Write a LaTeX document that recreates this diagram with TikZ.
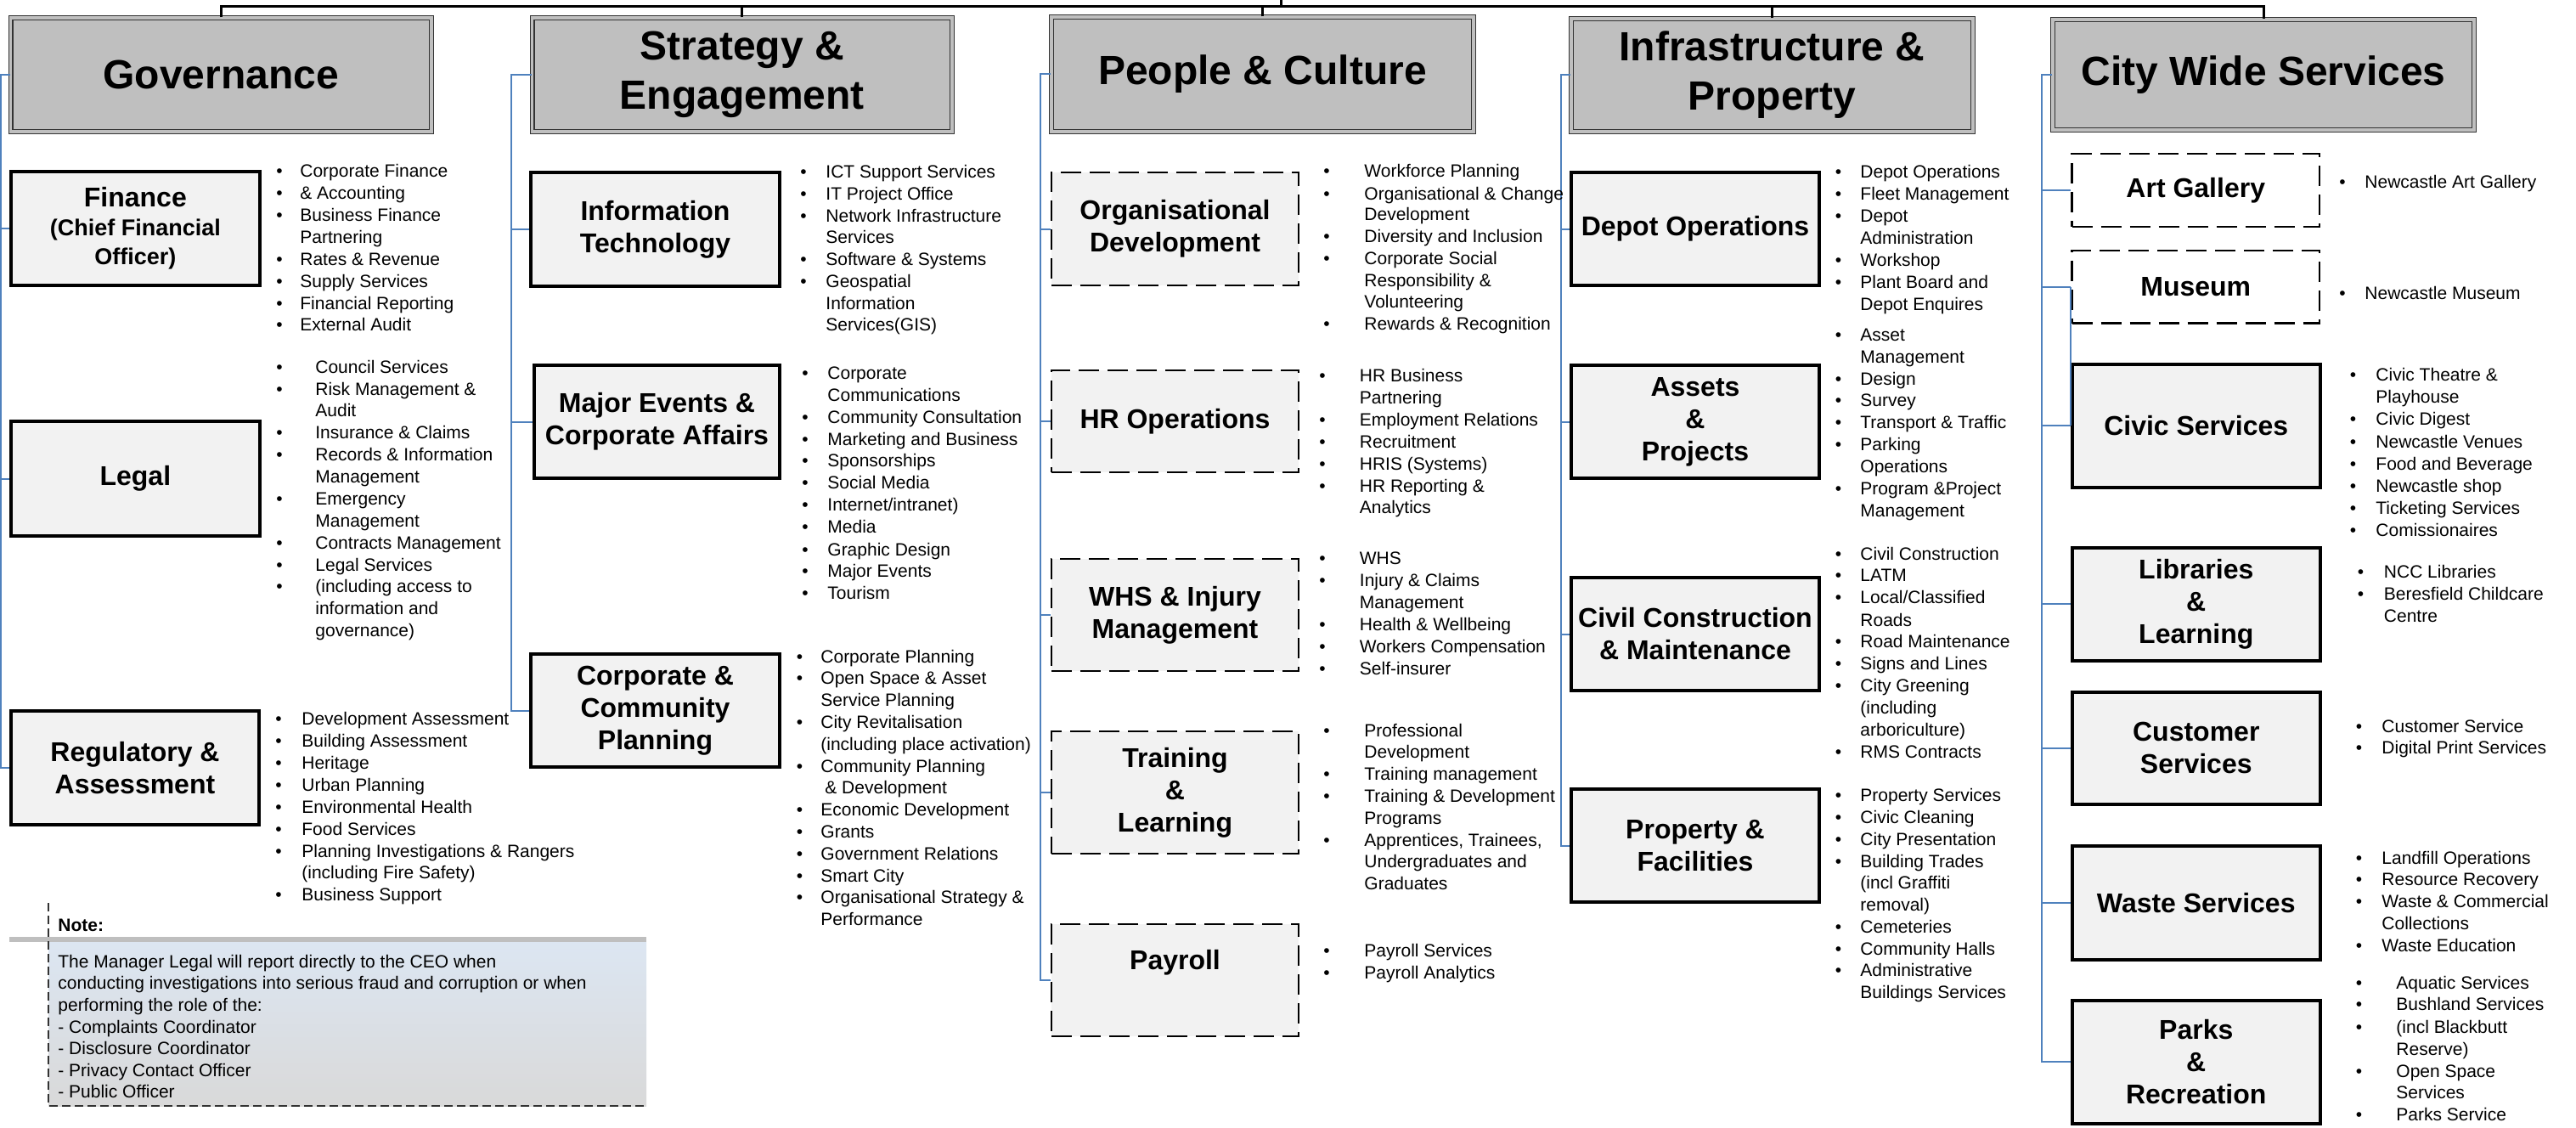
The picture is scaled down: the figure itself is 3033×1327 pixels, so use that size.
\documentclass[tikz,border=0pt]{standalone}
\usepackage{fontspec}
\setmainfont{Liberation Sans}
\usetikzlibrary{calc}
\definecolor{hdrfill}{HTML}{BFBFBF}
\definecolor{boxfill}{HTML}{F2F2F2}
\definecolor{connblue}{HTML}{4F81BD}
\definecolor{noteTop}{HTML}{DCE6F2}
\definecolor{noteBot}{HTML}{D9D9D9}
\definecolor{noteBar}{HTML}{BFBFBF}
\newcounter{lnc}
\newcommand\bli[4]{\stepcounter{lnc}\node[bultxt,anchor=center] (b\arabic{lnc}) at (#1,#3) {\textbullet};\node[bultxt] (t\arabic{lnc}) at (#2,#3) {#4};}
\newcommand\cli[3]{\stepcounter{lnc}\node[bultxt] (t\arabic{lnc}) at (#1,#2) {#3};}
\newcommand\bx[7]{\node[#1,minimum width={(#5-#3)*0.5pt-2pt},minimum height={(#6-#4)*0.5pt-2pt}] (#2) at ({(#3+#5)/2},{(#4+#6)/2}) {#7};}
\newcommand\fsm{\fontsize{13.5}{17}\selectfont}
\tikzset{
 hdr/.style={draw=black!80, double=hdrfill, double distance=1.6pt, line width=0.7pt, fill=hdrfill, inner sep=0pt, align=center, font=\fontsize{24}{29}\selectfont\bfseries},
 sub/.style={draw=black, line width=2pt, fill=boxfill, inner sep=0pt, align=center, font=\fontsize{16}{19}\selectfont\bfseries},
 dsub/.style={sub, line width=1.25pt, dash pattern=on 12pt off 5pt},
 wsub/.style={dsub, fill=white},
 bultxt/.style={inner sep=0pt, anchor=west, text height=7.5pt, text depth=0pt, font=\fontsize{10.5}{13}\selectfont},
 conn/.style={draw=connblue, line width=1pt},
 topline/.style={draw=black, line width=1.5pt},
 notedash/.style={draw=black!80, line width=0.6pt, dash pattern=on 5pt off 2.5pt},
}
\begin{document}
\begin{tikzpicture}[x=0.5pt,y=-0.5pt]
\useasboundingbox (0,0) rectangle (3033,1327);
% headers
\bx{hdr}{gH}{10.7}{19}{510}{157}{Governance}
\bx{hdr}{sH}{624.5}{19}{1123}{157}{Strategy \&\\Engagement}
\bx{hdr}{pH}{1236}{18}{1737}{157}{People \& Culture}
\bx{hdr}{iH}{1848}{20}{2325}{157}{Infrastructure \&\\Property}
\bx{hdr}{cH}{2415}{21}{2915}{155}{City Wide Services}
% top line
\coordinate (ty) at (0,7.5);
\coordinate (ceo) at (1508,0);
\draw[topline] (gH.north) -- (gH.north |- ty) -- (cH.north |- ty) -- (cH.north);
\foreach \n in {sH,pH,iH} \draw[topline] (\n.north) -- (\n.north |- ty);
\draw[topline] (ceo) -- (ceo |- ty);
% Governance
\bx{sub,font=\fontsize{16}{17}\selectfont\bfseries}{fin}{10.7}{200}{308}{338}{Finance\\\fsm (Chief Financial\\\fsm Officer)}
\bx{sub}{leg}{10.7}{494}{308}{633}{Legal}
\bx{sub}{reg}{11}{835}{307}{973}{Regulatory \&\\Assessment}
% Strategy
\bx{sub}{it}{623}{201}{920}{339}{Information\\Technology}
\bx{sub}{mev}{627}{428}{920}{565}{Major Events \&\\Corporate Affairs}
\bx{sub}{ccp}{623}{768}{920}{905}{Corporate \&\\Community\\Planning}
% People
\bx{dsub}{org}{1236}{201}{1531}{338}{Organisational\\Development}
\bx{dsub}{hro}{1236}{434}{1531}{558}{HR Operations}
\bx{dsub}{whs}{1236}{656}{1531}{792}{WHS \& Injury\\Management}
\bx{dsub}{trn}{1236}{859}{1531}{1007}{Training\\\&\\Learning}
\bx{dsub}{pay}{1236}{1086}{1531}{1222}{}
\node[font=\fontsize{16}{19}\selectfont\bfseries, inner sep=0pt] (payT) at (1383.5,1133) {Payroll};
% Infrastructure
\bx{sub}{dep}{1848}{201}{2144}{338}{Depot Operations}
\bx{sub}{ass}{1848}{428}{2144}{565}{Assets\\\&\\Projects}
\bx{sub}{civ}{1848}{678}{2144}{815}{Civil Construction\\\& Maintenance}
\bx{sub}{prf}{1848}{927}{2144}{1064}{Property \&\\Facilities}
% City wide
\bx{wsub}{art}{2437.5}{179}{2733}{269}{Art Gallery}
\bx{wsub}{mus}{2437.5}{293}{2733}{382.5}{Museum}
\bx{sub}{cvs}{2437.5}{427}{2734}{575.5}{Civic Services}
\bx{sub}{lib}{2437.5}{643}{2734}{779.5}{Libraries\\\&\\Learning}
\bx{sub}{cus}{2437.5}{812.5}{2734}{948.7}{Customer\\Services}
\bx{sub}{was}{2437.5}{994}{2734}{1131.5}{Waste Services}
\bx{sub}{prk}{2437.5}{1176}{2734}{1324.5}{Parks\\\&\\Recreation}
% connectors
\coordinate (gv) at (1,0);
\coordinate (sv) at (602,0);
\coordinate (pv) at (1225,0);
\coordinate (iv) at (1837.7,0);
\coordinate (cv) at (2404,0);
\draw[conn] (gH.west) -- (gH.west -| gv) |- (reg.west);
\foreach \n in {fin,leg} \draw[conn] (gv |- \n.west) -- (\n.west);
\draw[conn] (sH.west) -- (sH.west -| sv) |- (ccp.west);
\foreach \n in {it,mev} \draw[conn] (sv |- \n.west) -- (\n.west);
\draw[conn] (pH.west) -- (pH.west -| pv) |- (pay.west);
\foreach \n in {org,hro,whs,trn} \draw[conn] (pv |- \n.west) -- (\n.west);
\draw[conn] (iH.west) -- (iH.west -| iv) |- (prf.west);
\foreach \n in {dep,ass,civ} \draw[conn] (iv |- \n.west) -- (\n.west);
\draw[conn] (cH.west) -- (cH.west -| cv) |- (prk.west);
\foreach \n in {art,mus,cvs,lib,cus,was} \draw[conn] (cv |- \n.west) -- (\n.west);
\draw[conn] (mus.west) -- (mus.west |- cvs.west);
% Finance list
\bli{329}{353}{201}{Corporate Finance}
\bli{329}{353}{227}{\& Accounting}
\bli{329}{353}{253}{Business Finance}
\cli{353}{279}{Partnering}
\bli{329}{353}{305}{Rates \& Revenue}
\bli{329}{353}{331}{Supply Services}
\bli{329}{353}{357}{Financial Reporting}
\bli{329}{353}{382}{External Audit}
% Legal list
\bli{329}{371}{432}{Council Services}
\bli{329}{371}{458}{Risk Management \&}
\cli{371}{483}{Audit}
\bli{329}{371}{509}{Insurance \& Claims}
\bli{329}{371}{535}{Records \& Information}
\cli{371}{561}{Management}
\bli{329}{371}{587}{Emergency}
\cli{371}{613}{Management}
\bli{329}{371}{639}{Contracts Management}
\bli{329}{371}{665}{Legal Services}
\bli{329}{371}{690}{(including access to}
\cli{371}{716}{information and}
\cli{371}{742}{governance)}
% Regulatory list
\bli{328}{355}{846}{Development Assessment}
\bli{328}{355}{872}{Building Assessment}
\bli{328}{355}{898}{Heritage}
\bli{328}{355}{924}{Urban Planning}
\bli{328}{355}{950}{Environmental Health}
\bli{328}{355}{976}{Food Services}
\bli{328}{355}{1002}{Planning Investigations \& Rangers}
\cli{355}{1027}{(including Fire Safety)}
\bli{328}{355}{1053}{Business Support}
% IT list
\bli{946}{972}{202}{ICT Support Services}
\bli{946}{972}{228}{IT Project Office}
\bli{946}{972}{254}{Network Infrastructure}
\cli{972}{279}{Services}
\bli{946}{972}{305}{Software \& Systems}
\bli{946}{972}{331}{Geospatial}
\cli{972}{357}{Information}
\cli{972}{382}{Services(GIS)}
% Major events list
\bli{948}{974}{439}{Corporate}
\cli{974}{465}{Communications}
\bli{948}{974}{491}{Community Consultation}
\bli{948}{974}{517}{Marketing and Business}
\bli{948}{974}{542}{Sponsorships}
\bli{948}{974}{568}{Social Media}
\bli{948}{974}{594}{Internet/intranet)}
\bli{948}{974}{620}{Media}
\bli{948}{974}{647}{Graphic Design}
\bli{948}{974}{672}{Major Events}
\bli{948}{974}{698}{Tourism}
% CCP list
\bli{941.5}{966}{773}{Corporate Planning}
\bli{941.5}{966}{798}{Open Space \& Asset}
\cli{966}{824}{Service Planning}
\bli{941.5}{966}{850}{City Revitalisation}
\cli{966}{876}{(including place activation)}
\bli{941.5}{966}{902}{Community Planning}
\cli{971}{927}{\& Development}
\bli{941.5}{966}{953}{Economic Development}
\bli{941.5}{966}{979}{Grants}
\bli{941.5}{966}{1005}{Government Relations}
\bli{941.5}{966}{1031}{Smart City}
\bli{941.5}{966}{1056}{Organisational Strategy \&}
\cli{966}{1082}{Performance}
% Org dev list
\bli{1562}{1606}{201}{Workforce Planning}
\bli{1562}{1606}{228}{Organisational \& Change}
\cli{1606}{252}{Development}
\bli{1562}{1606}{278}{Diversity and Inclusion}
\bli{1562}{1606}{304}{Corporate Social}
\cli{1606}{330}{Responsibility \&}
\cli{1606}{355}{Volunteering}
\bli{1562}{1606}{381}{Rewards \& Recognition}
% HR ops list
\bli{1557}{1600.5}{442}{HR Business}
\cli{1600.5}{468}{Partnering}
\bli{1557}{1600.5}{494}{Employment Relations}
\bli{1557}{1600.5}{520}{Recruitment}
\bli{1557}{1600.5}{546}{HRIS (Systems)}
\bli{1557}{1600.5}{572}{HR Reporting \&}
\cli{1600.5}{597}{Analytics}
% WHS list
\bli{1557}{1600.5}{657}{WHS}
\bli{1557}{1600.5}{683}{Injury \& Claims}
\cli{1600.5}{709}{Management}
\bli{1557}{1600.5}{735}{Health \& Wellbeing}
\bli{1557}{1600.5}{761}{Workers Compensation}
\bli{1557}{1600.5}{787}{Self-insurer}
% Training list
\bli{1562}{1606}{860}{Professional}
\cli{1606}{885}{Development}
\bli{1562}{1606}{911}{Training management}
\bli{1562}{1606}{937}{Training \& Development}
\cli{1606}{963}{Programs}
\bli{1562}{1606}{989}{Apprentices, Trainees,}
\cli{1606}{1014}{Undergraduates and}
\cli{1606}{1040}{Graduates}
% Payroll list
\bli{1562}{1606}{1119}{Payroll Services}
\bli{1562}{1606}{1145}{Payroll Analytics}
% Depot list
\bli{2164.5}{2190}{202}{Depot Operations}
\bli{2164.5}{2190}{228}{Fleet Management}
\bli{2164.5}{2190}{254}{Depot}
\cli{2190}{280}{Administration}
\bli{2164.5}{2190}{306}{Workshop}
\bli{2164.5}{2190}{332}{Plant Board and}
\cli{2190}{358}{Depot Enquires}
% Assets list
\bli{2164.5}{2190}{393.5}{Asset}
\cli{2190}{419.5}{Management}
\bli{2164.5}{2190}{445.5}{Design}
\bli{2164.5}{2190}{471}{Survey}
\bli{2164.5}{2190}{497}{Transport \& Traffic}
\bli{2164.5}{2190}{523}{Parking}
\cli{2190}{549}{Operations}
\bli{2164.5}{2190}{575}{Program \&Project}
\cli{2190}{601}{Management}
% Civil list
\bli{2164.5}{2190}{652}{Civil Construction}
\bli{2164.5}{2190}{677}{LATM}
\bli{2164.5}{2190}{703}{Local/Classified}
\cli{2190}{730}{Roads}
\bli{2164.5}{2190}{755}{Road Maintenance}
\bli{2164.5}{2190}{781}{Signs and Lines}
\bli{2164.5}{2190}{807}{City Greening}
\cli{2190}{833}{(including}
\cli{2190}{859}{arboriculture)}
\bli{2164.5}{2190}{885}{RMS Contracts}
% Property list
\bli{2164.5}{2190}{936}{Property Services}
\bli{2164.5}{2190}{962}{Civic Cleaning}
\bli{2164.5}{2190}{988}{City Presentation}
\bli{2164.5}{2190}{1013.5}{Building Trades}
\cli{2190}{1039}{(incl Graffiti}
\cli{2190}{1065}{removal)}
\bli{2164.5}{2190}{1090.5}{Cemeteries}
\bli{2164.5}{2190}{1117}{Community Halls}
\bli{2164.5}{2190}{1142}{Administrative}
\cli{2190}{1168}{Buildings Services}
% City wide lists
\bli{2758}{2784}{214}{Newcastle Art Gallery}
\bli{2758}{2784}{344.5}{Newcastle Museum}
\bli{2770.6}{2797}{441}{Civic Theatre \&}
\cli{2797}{467}{Playhouse}
\bli{2770.6}{2797}{493}{Civic Digest}
\bli{2770.6}{2797}{520}{Newcastle Venues}
\bli{2770.6}{2797}{546}{Food and Beverage}
\bli{2770.6}{2797}{572}{Newcastle shop}
\bli{2770.6}{2797}{597.5}{Ticketing Services}
\bli{2770.6}{2797}{623.7}{Comissionaires}
\bli{2779.5}{2806.5}{673}{NCC Libraries}
\bli{2779.5}{2806.5}{699}{Beresfield Childcare}
\cli{2806.5}{724.5}{Centre}
\bli{2777.5}{2804}{855}{Customer Service}
\bli{2777.5}{2804}{880}{Digital Print Services}
\bli{2777.5}{2804}{1009.6}{Landfill Operations}
\bli{2777.5}{2804}{1035}{Resource Recovery}
\bli{2777.5}{2804}{1061}{Waste \& Commercial}
\cli{2804}{1086.7}{Collections}
\bli{2777.5}{2804}{1113}{Waste Education}
\bli{2777.5}{2821}{1157}{Aquatic Services}
\bli{2777.5}{2821}{1182}{Bushland Services}
\bli{2777.5}{2821}{1208.5}{(incl Blackbutt}
\cli{2821}{1234.7}{Reserve)}
\bli{2777.5}{2821}{1261}{Open Space}
\cli{2821}{1286}{Services}
\bli{2777.5}{2821}{1312}{Parks Service}
% Note
\fill[noteBar] (11,1103) rectangle (761,1109);
\shade[top color=noteTop, bottom color=noteBot] (57,1109) rectangle (761,1302);
\coordinate (nA) at (57,1063);
\coordinate (nB) at (57,1302);
\coordinate (nC) at (761,1302);
\draw[notedash] (nA) -- (nB) -- (nC);
\node[bultxt,font=\fontsize{10.5}{13}\selectfont\bfseries] (note) at (68,1089) {Note:};
\cli{68}{1132}{The Manager Legal will report directly to the CEO when}
\cli{68}{1157}{conducting investigations into serious fraud and corruption or when}
\cli{68}{1183}{performing the role of the:}
\cli{68}{1209}{- Complaints Coordinator}
\cli{68}{1234}{- Disclosure Coordinator}
\cli{68}{1260}{- Privacy Contact Officer}
\cli{68}{1285}{- Public Officer}
\end{tikzpicture}
\end{document}
